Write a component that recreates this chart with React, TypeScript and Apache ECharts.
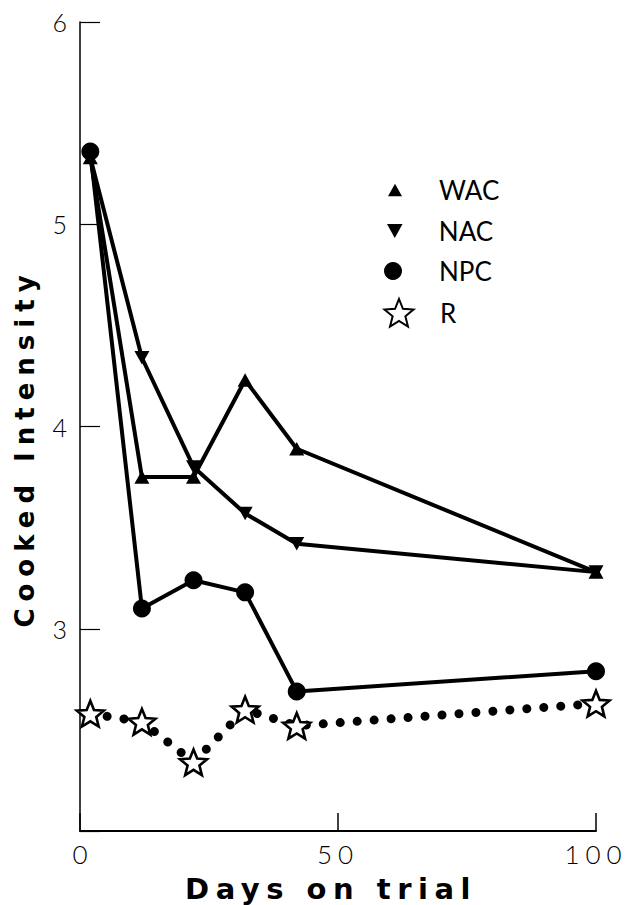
import React, { useEffect, useRef } from "react";
import * as echarts from "echarts";

// ---- data ----
const days = [2, 12, 22, 32, 42, 100];
const wacValues = [5.33, 3.75, 3.75, 4.23, 3.89, 3.28];
const nacValues = [5.33, 4.34, 3.8, 3.57, 3.42, 3.28];
const npcValues = [5.36, 3.1, 3.24, 3.18, 2.69, 2.79];
const rValues = [2.58, 2.54, 2.34, 2.6, 2.52, 2.63];
const xTickLabels = ["0", "50", "100"];
const yTickLabels = ["3", "4", "5", "6"];
const seriesNames = ["WAC", "NAC", "NPC", "R"];
const xTitle = "Days on trial";
const yTitle = "Cooked Intensity";

function makeStar(): string {
  const pts: string[] = [];
  for (let i = 0; i < 10; i++) {
    const r = i % 2 === 0 ? 50 : 22;
    const a = -Math.PI / 2 + (i * Math.PI) / 5;
    pts.push(`${(50 + r * Math.cos(a)).toFixed(2)},${(50 + r * Math.sin(a)).toFixed(2)}`);
  }
  return "path://M" + pts.join("L") + "Z";
}
const STAR = makeStar();
const TRI_DOWN = "path://M0,0L10,0L5,9Z";
const TRI_UP = "path://M5,0L10,9L0,9Z";

const pairs = (vals: number[]) => days.map((d, i) => [d, vals[i]]);

export default function App() {
  const ref = useRef<HTMLDivElement>(null);
  useEffect(() => {
    if (!ref.current) return;
    const chart = echarts.init(ref.current, null, { renderer: "svg" });
    const black = "#000";
    const baseLine = (name: string, vals: number[], symbol: string, size: number | number[]) => ({
      type: "line",
      name,
      data: pairs(vals),
      symbol,
      symbolSize: size,
      symbolKeepAspect: true,
      lineStyle: { color: black, width: 4 },
      itemStyle: { color: black },
      emphasis: { disabled: true },
      silent: true,
      z: 3,
    });
    const legendItem = (name: string, icon: string, cx: number, cy: number, w: number, h: number) => ({
      data: [{ name, icon }],
      orient: "vertical",
      left: cx - w / 2,
      top: cy - 13,
      itemWidth: w,
      itemHeight: h,
      padding: 0,
      selectedMode: false,
      textStyle: {
        fontSize: 26,
        lineHeight: 26,
        fontFamily: "Lato",
        color: black,
        padding: [0, 0, 0, 439 - (cx - w / 2 + w + 5)],
      },
    });
    chart.setOption({
      animation: false,
      backgroundColor: "#fff",
      grid: { left: 80, right: 35, top: 22, bottom: 74 },
      xAxis: {
        type: "value",
        min: 0,
        max: 100,
        interval: 50,
        axisLine: { lineStyle: { color: black, width: 2 } },
        axisTick: { inside: true, length: 18, lineStyle: { color: black, width: 1.5 } },
        splitLine: { show: false },
        axisLabel: {
          margin: 10,
          fontSize: 26,
          lineHeight: 26,
          fontFamily: "Lato",
          fontWeight: 300,
          color: black,
          formatter: (v: number) => xTickLabels.find((t) => Number(t) === v) ?? "",
        },
      },
      yAxis: {
        type: "value",
        min: 2,
        max: 6,
        interval: 1,
        axisLine: { show: true, lineStyle: { color: black, width: 1.5 } },
        axisTick: { show: true, inside: true, length: 20, lineStyle: { color: black, width: 1.2 } },
        splitLine: { show: false },
        axisLabel: {
          margin: 13,
          fontSize: 25,
          fontFamily: "Lato",
          fontWeight: 300,
          color: black,
          formatter: (v: number) => yTickLabels.find((t) => Number(t) === v) ?? "",
        },
      },
      legend: [
        legendItem(seriesNames[0], TRI_UP, 395, 190, 14, 13),
        legendItem(seriesNames[1], TRI_DOWN, 395, 231, 16, 14),
        legendItem(seriesNames[2], "circle", 393, 271, 18, 18),
        legendItem(seriesNames[3], STAR, 398, 311, 29, 28),
      ],
      graphic: [
        {
          type: "text",
          x: 25,
          y: 448,
          rotation: Math.PI / 2,
          style: {
            text: yTitle,
            fontSize: 26,
            fontWeight: "bold",
            fontFamily: "DejaVu Sans",
            fill: black,
            align: "center",
            verticalAlign: "middle",
            textAlign: "center",
            textVerticalAlign: "middle",
          },
        },
        {
          type: "text",
          x: 331,
          y: 889,
          style: {
            text: xTitle,
            fontSize: 29,
            fontWeight: "bold",
            fontFamily: "DejaVu Sans",
            fill: black,
            align: "center",
            verticalAlign: "middle",
            textAlign: "center",
            textVerticalAlign: "middle",
          },
        },
      ],
      series: [
        {
          type: "line",
          name: seriesNames[3],
          data: pairs(rValues),
          symbol: STAR,
          symbolSize: 27,
          symbolKeepAspect: true,
          lineStyle: { color: black, width: 9, type: [0.01, 17], cap: "round" },
          itemStyle: { color: "#fff", borderColor: black, borderWidth: 2.6 },
          emphasis: { disabled: true },
          silent: true,
          z: 4,
        },
        baseLine(seriesNames[2], npcValues, "circle", 18),
        baseLine(seriesNames[1], nacValues, TRI_DOWN, 15),
        baseLine(seriesNames[0], wacValues, TRI_UP, 15),
      ],
    });
    // letter spacing on titles and spaced tick labels
    const svg = ref.current.querySelector("svg");
    if (svg) {
      svg.querySelectorAll("text").forEach((t) => {
        const s = t.textContent;
        if (s === yTitle) t.setAttribute("letter-spacing", "7");
        else if (s === xTitle) t.setAttribute("letter-spacing", "6.5");
        else if (s === "50" || s === "100") t.setAttribute("letter-spacing", "6");
      });
    }
    return () => chart.dispose();
  }, []);
  return (
    <div
      ref={ref}
      style={{ position: "fixed", left: 0, top: 0, width: 631, height: 905, background: "#fff" }}
    />
  );
}
